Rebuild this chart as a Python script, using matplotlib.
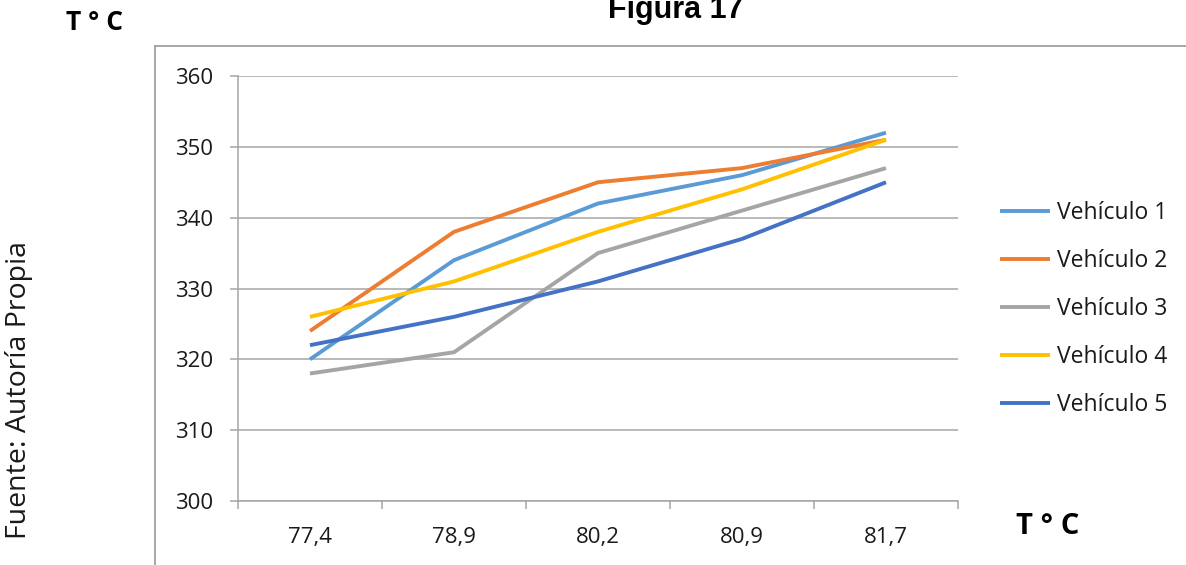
import matplotlib
matplotlib.use("Agg")
import matplotlib.pyplot as plt
from matplotlib.lines import Line2D
from matplotlib.ticker import FixedLocator, NullFormatter

categories = ["77,4", "78,9", "80,2", "80,9", "81,7"]
vehiculo_1 = [320, 334, 342, 346, 352]
vehiculo_2 = [324, 338, 345, 347, 351]
vehiculo_3 = [318, 321, 335, 341, 347]
vehiculo_4 = [326, 331, 338, 344, 351]
vehiculo_5 = [322, 326, 331, 337, 345]
series_names = ["Vehículo 1", "Vehículo 2", "Vehículo 3", "Vehículo 4", "Vehículo 5"]
colors = ["#5B9BD5", "#ED7D31", "#A5A5A5", "#FFC000", "#4472C4"]
y_ticks = [300, 310, 320, 330, 340, 350, 360]

W, H = 1186, 565
fig = plt.figure(figsize=(W / 100, H / 100), dpi=100)

def fx(px):
    return px / W

def fy(py):
    return 1 - py / H

ax = fig.add_axes([fx(238), fy(501), fx(958) - fx(238), fy(76) - fy(501)])
x = list(range(len(categories)))
for vals, name, c in zip([vehiculo_1, vehiculo_2, vehiculo_3, vehiculo_4, vehiculo_5], series_names, colors):
    ax.plot(x, vals, color=c, lw=2.8, label=name, solid_capstyle="butt", solid_joinstyle="miter")

ax.set_xlim(-0.5, len(categories) - 0.5)
ax.set_ylim(300, 360)
ax.set_yticks(y_ticks)
ax.set_xticks(x)
ax.set_xticklabels(categories)
ax.xaxis.set_minor_locator(FixedLocator([i - 0.5 for i in range(len(categories) + 1)]))
ax.xaxis.set_minor_formatter(NullFormatter())

grid_c = "#A6A6A6"
ax.grid(axis="y", color=grid_c, lw=1.1)
ax.set_axisbelow(True)
for s in ["top", "right"]:
    ax.spines[s].set_visible(False)
for s in ["left", "bottom"]:
    ax.spines[s].set_color(grid_c)
    ax.spines[s].set_linewidth(1.1)

ax.tick_params(axis="y", length=5.8, width=1.1, color=grid_c, pad=12, labelsize=16)
ax.tick_params(axis="x", which="major", length=0, pad=19, labelsize=16)
ax.tick_params(axis="x", which="minor", length=5.8, width=1.1, color=grid_c)
for lab in ax.get_xticklabels() + ax.get_yticklabels():
    lab.set_fontfamily("Open Sans")
    lab.set_color("#1a1a1a")

leg = fig.legend(loc="center left", bbox_to_anchor=(fx(1000), fy(309)), frameon=False,
                 prop=dict(family="Open Sans", size=16.5), handlelength=2.2, handletextpad=0.3,
                 labelspacing=1.04, borderpad=0, borderaxespad=0)
for t in leg.get_texts():
    t.set_color("#1a1a1a")

# outer frame lines
frame_c = "#A0A0A0"
fig.add_artist(Line2D([fx(155), fx(155)], [fy(46), fy(565)], color=frame_c, lw=1.3))
fig.add_artist(Line2D([fx(155), 1], [fy(46), fy(46)], color=frame_c, lw=1.3))

fig.text(fx(676), fy(18), "Figura 17", ha="center", va="baseline", family="Liberation Sans",
         weight="bold", size=22)
fig.text(fx(95), fy(22), "T ° C", ha="center", va="center", family="Open Sans", weight="bold", size=19)
fig.text(fx(1048), fy(527), "T ° C", ha="center", va="center", family="Open Sans", weight="bold", size=21)
fig.text(fx(19), fy(390), "Fuente: Autoría Propia", ha="center", va="center", rotation=90,
         family="Open Sans", size=20.5, color="#1a1a1a")

fig.savefig("out.png", dpi=100)
